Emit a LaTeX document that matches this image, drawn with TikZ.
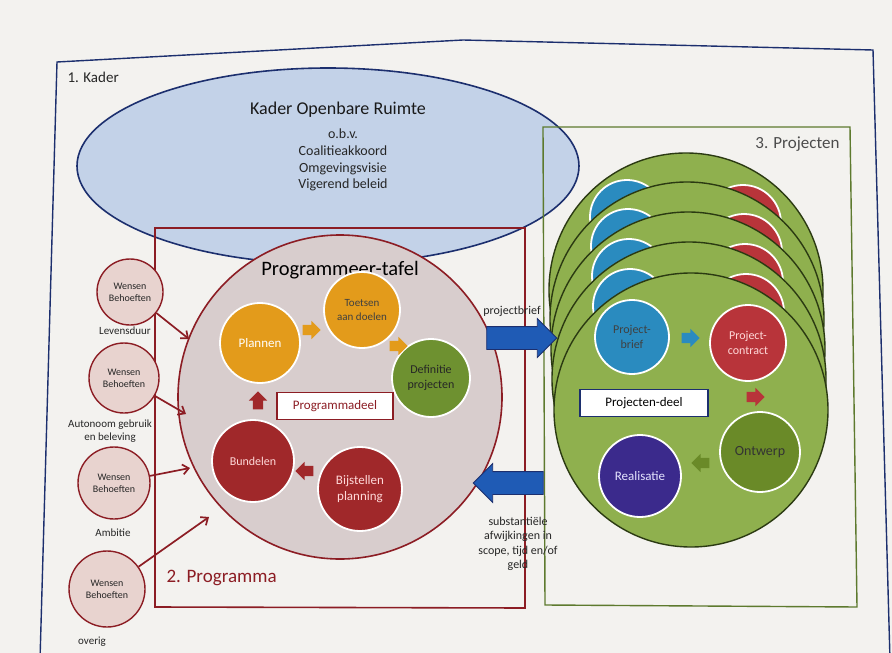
\documentclass[tikz,border=0pt]{standalone}
\usepackage{fontspec}
\setmainfont{Carlito}
\usetikzlibrary{shapes.arrows,shapes.geometric,arrows.meta,calc}
\definecolor{paper}{HTML}{F3F2EF}
\definecolor{kblue}{HTML}{1C2F6E}
\definecolor{kfill}{HTML}{C3D2E8}
\definecolor{dred}{HTML}{8C1D24}
\definecolor{tafel}{HTML}{D8CDCD}
\definecolor{wish}{HTML}{E8D3CF}
\definecolor{orng}{HTML}{E39B1B}
\definecolor{defgreen}{HTML}{6E9130}
\definecolor{bred}{HTML}{A0282A}
\definecolor{barrow}{HTML}{1F5BB5}
\definecolor{layer}{HTML}{8FB04E}
\definecolor{layerline}{HTML}{2B3A12}
\definecolor{pbrief}{HTML}{2A8BBF}
\definecolor{pcontr}{HTML}{B8343A}
\definecolor{ontw}{HTML}{6A8A28}
\definecolor{real}{HTML}{3B2A8C}
\definecolor{gframe}{HTML}{5D7A2E}
\tikzset{
  fs/.style={font=\fontsize{#1pt}{\dimexpr #1pt*6/5\relax}\selectfont},
  wishc/.style={circle, draw=dred, fill=wish, line width=1.4pt, minimum size=#1, inner sep=0pt, align=center, fs=10, text=black!85},
  innerc/.style={circle, draw=white, line width=1.8pt, minimum size=#1, inner sep=0pt, align=center},
  layerc/.style={circle, draw=layerline, fill=layer, line width=1.4pt, minimum size=274pt, inner sep=0pt},
  bigarrow/.style={single arrow, inner sep=11pt, single arrow head extend=8pt, minimum height=70pt, fill=barrow, draw=kblue, line width=0.8pt},
  smallarrow/.style={single arrow, inner sep=5pt, single arrow head extend=4pt, minimum height=18pt, fill=#1, draw=none},
  warrow/.style={draw=dred, line width=1.7pt, -{Straight Barb[length=6pt,width=10pt]}},
  lbl/.style={fs=11, text=black!85, align=center, inner sep=0pt}
}
\begin{document}
\begin{tikzpicture}[x=1pt,y=-1pt]
\useasboundingbox (0,0) rectangle (892,653);
\fill[paper] (0,0) rectangle (892,653);
% 1. Kader frame
\draw[kblue, line width=1.4pt] (40,660) -- (57,62) -- (463,40) -- (873,50) -- (890,660);
\node[fs=15, anchor=west, text=black!85] (kaderlbl) at (64,77) {1. Kader};
% Kader ellipse
\node[ellipse, draw=kblue, fill=kfill, line width=1.6pt, minimum width=502pt, minimum height=196pt] (kor) at (328,166) {};
\node[fs=18, text=black!90] (kort) at (338,110) {Kader Openbare Ruimte};
\node[fs=14, align=center, text=black!85] (korsub) at (343,160) {o.b.v.\\Coalitieakkoord\\Omgevingsvisie\\Vigerend beleid};
% 3. Projecten frame
\draw[gframe, line width=1.4pt] (543,127) -- (850,127) -- (857,607) -- (545,605) -- cycle;
\node[fs=17, anchor=east, text=black!70] (projlbl) at (843,144) {3. Projecten};
% 2. Programma frame
\draw[dred, line width=1.6pt] (155,228) -- (525,228) -- (525,608) -- (155,607) -- cycle;
\node[fs=19, anchor=west, text=dred] (proglbl) at (163,578) {2. Programma};
% Programmeer-tafel
\node[circle, draw=dred, fill=tafel, line width=1.6pt, minimum size=324pt] (tafel) at (340,397) {};
\node[fs=20.5, text=black] (tafelt) at (340,270) {Programmeer-tafel};
\node[innerc=80pt, fill=orng, text=white, fs=13] (plannen) at (260,343) {Plannen};
\node[innerc=76pt, fill=orng, text=black!75, fs=11] (toetsen) at (362,310) {Toetsen\\aan doelen};
\node[innerc=78pt, fill=defgreen, text=black!85, fs=12] (defin) at (431,378) {Definitie\\projecten};
\node[draw=dred, fill=white, line width=1.6pt, minimum width=116pt, minimum height=27pt, fs=13, text=dred] (pdeel) at (335,406) {Programmadeel};
\node[innerc=82pt, fill=bred, text=white!85!red, fs=12] (bundelen) at (253,461) {Bundelen};
\node[innerc=84pt, fill=bred, text=white!85!red, fs=13] (bijst) at (360,489) {Bijstellen\\planning};
\node[smallarrow=orng, shape border rotate=10] (a1) at (309,330) {};
\node[smallarrow=orng, shape border rotate=-45] (a2) at (396,346) {};
\node[smallarrow=bred, shape border rotate=165] (a3) at (307,471) {};
\node[smallarrow=bred, shape border rotate=90] (a4) at (258,403) {};
% Wensen circles
\node[wishc=66pt] (w1) at (130,292) {Wensen\\Behoeften};
\node[lbl] (l1) at (125,331) {Levensduur};
\node[wishc=70pt] (w2) at (124,378) {Wensen\\Behoeften};
\node[lbl] (l2) at (110,431) {Autonoom gebruik\\en beleving};
\node[wishc=72pt] (w3) at (114,483) {Wensen\\Behoeften};
\node[lbl] (l3) at (113,533) {Ambitie};
\node[wishc=76pt] (w4) at (107,589) {Wensen\\Behoeften};
\node[lbl] (l4) at (92,642) {overig};
\coordinate (e1) at (189,339);
\coordinate (e2) at (186,414);
\coordinate (e3) at (190,468);
\coordinate (e4) at (209,517);
\draw[warrow] (w1) -- (e1);
\draw[warrow] (w2) -- (e2);
\draw[warrow] (w3) -- (e3);
\draw[warrow] (w4) -- (e4);
% project layers
\foreach \i/\cx/\cy in {1/686/290, 2/687/319, 3/688/349, 4/689/379} {
  \node[layerc] (layer\i) at (\cx,\cy) {};
  \node[innerc=74pt, fill=pbrief] (lb\i) at ($(\cx,\cy)+(-59,-73)$) {};
  \node[innerc=76pt, fill=pcontr] (lr\i) at ($(\cx,\cy)+(57,-67)$) {};
}
\node[layerc] (layer5) at (691,410) {};
\node[innerc=74pt, fill=pbrief, text=black!75, fs=12] (pbr) at (632,337) {Project-\\brief};
\node[innerc=76pt, fill=pcontr, text=white!85!red, fs=12] (pco) at (748,343) {Project-\\contract};
\node[draw=kblue, fill=white, line width=1.6pt, minimum width=128pt, minimum height=27pt, fs=13, text=black] (pjdeel) at (644,403) {Projecten-deel};
\node[innerc=80pt, fill=ontw, text=black!80, fs=14] (ontwerp) at (760,452) {Ontwerp};
\node[innerc=82pt, fill=real, text=white!90!blue, fs=13] (realis) at (640,476) {Realisatie};
\node[smallarrow=pbrief] (b1) at (688,338) {};
\node[smallarrow=pcontr, shape border rotate=-90] (b2) at (753,397) {};
\node[smallarrow=ontw, shape border rotate=180] (b3) at (703,463) {};
% blue arrows
\node[bigarrow] (toproj) at (516,338) {};
\node[fs=12, text=black!85] (pbl) at (512,311) {projectbrief};
\node[bigarrow, shape border rotate=180] (toprog) at (514,483) {};
\node[fs=12, text=black!85, align=center] (subl) at (518,544) {substantiële\\afwijkingen in\\scope, tijd en/of\\geld};
\end{tikzpicture}
\end{document}
